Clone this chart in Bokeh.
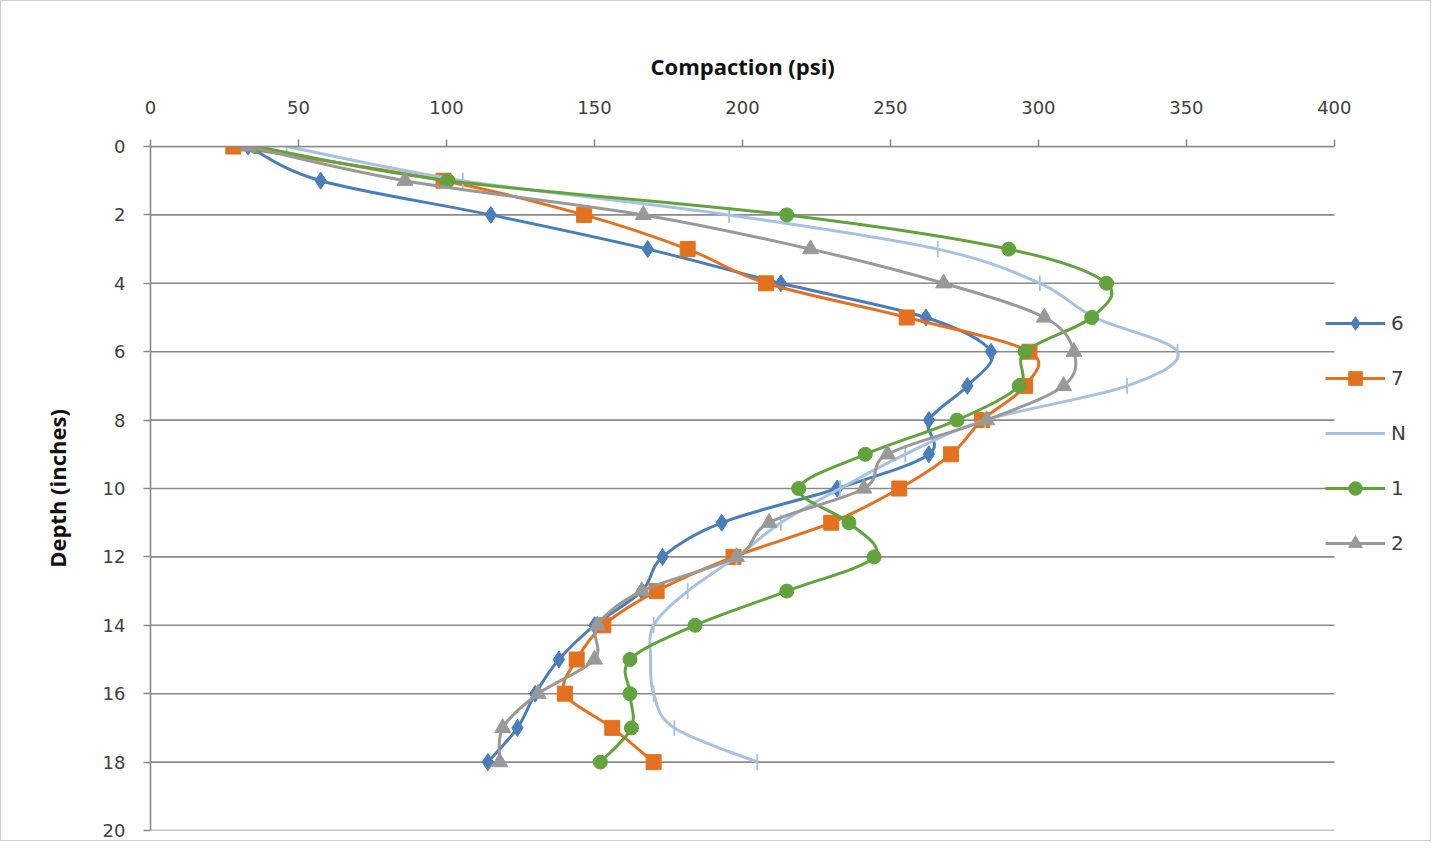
from bokeh.plotting import figure
from bokeh.models import Range1d, FixedTicker, Legend, LegendItem, ColumnDataSource, Title
from bokeh.embed import file_html
from bokeh.resources import INLINE
import numpy as np

# ---- data ----
depth = [0, 1, 2, 3, 4, 5, 6, 7, 8, 9, 10, 11, 12, 13, 14, 15, 16, 17, 18]
s6 = [33, 57.5, 115, 168, 213, 262, 284, 276, 263, 263, 232, 193, 173, 166, 150, 138, 130, 124, 114]
s7 = [28, 99, 146.5, 181.5, 208, 255.5, 297, 295.5, 281, 270.5, 253, 230, 197, 171, 153, 144, 140, 156, 170]
sN = [46, 105.5, 195.5, 266, 300.5, 319, 347, 330, 282, 255, 233, 213, 198, 181.5, 170, 169, 170, 177, 205]
s1 = [35.5, 100.5, 215, 290, 323, 318, 295.5, 293.5, 272.5, 241.5, 219, 236, 244.5, 215, 184, 162, 162, 162.5, 152]
s2 = [33, 86, 166.5, 223, 268, 302, 312, 308.5, 282.5, 249, 241, 209, 198, 166, 151, 150, 131, 119, 118]

series_names = ["6", "7", "N", "1", "2"]
series_vals = [s6, s7, sN, s1, s2]
colors = ["#4a7ebb", "#e4711f", "#a7c1e2", "#62a33e", "#999999"]
markers = ["diamond", "square", "plus", "circle", "triangle"]
msizes = [17, 15, 16, 14, 16]

x_ticks = [0, 50, 100, 150, 200, 250, 300, 350, 400]
y_ticks = [0, 2, 4, 6, 8, 10, 12, 14, 16, 18, 20]
x_max = 400
x_title = "Compaction (psi)"
y_title = "Depth (inches)"

FONT = "DejaVu Sans"
TFONT = "Open Sans"

FRAME_W = 1271       # frame reaches past the 400 mark so the legend fits inside it
DATA_W = 1182        # pixel width of the 0..400 data area

p = figure(width=1431, height=841, output_backend="svg", toolbar_location=None,
           x_range=Range1d(0, x_max * FRAME_W / DATA_W), y_range=Range1d(20, 0),
           x_axis_location="above",
           min_border_left=149, min_border_top=145, min_border_right=9, min_border_bottom=12)
p.styles = {"border": "1px solid #cfcfcf"}
p.outline_line_color = None
p.background_fill_color = "white"
p.border_fill_color = "white"

p.xgrid.grid_line_color = None
p.ygrid.grid_line_color = None

# horizontal gridlines limited to the 0..400 data area
p.segment(x0=[0] * len(y_ticks), x1=[x_max] * len(y_ticks), y0=y_ticks, y1=y_ticks,
          line_color="#8a8a8a", line_width=1.6)

for ax in (p.xaxis[0], p.yaxis[0]):
    ax.axis_line_color = "#8a8a8a"
    ax.axis_line_width = 1.6
    ax.major_tick_line_color = "#8a8a8a"
    ax.major_tick_line_width = 1.6
    ax.major_tick_out = 7
    ax.major_tick_in = 0
    ax.minor_tick_line_color = None
    ax.major_label_text_font = FONT
    ax.major_label_text_font_size = "18px"
    ax.major_label_text_color = "#404040"
    ax.axis_label_text_font = TFONT
    ax.axis_label_text_font_style = "bold"
    ax.axis_label_text_font_size = "22px"
    ax.axis_label_text_color = "#111111"

p.xaxis[0].ticker = FixedTicker(ticks=x_ticks)
p.xaxis[0].bounds = (0, x_max)
p.xaxis[0].major_label_standoff = 26
p.yaxis[0].ticker = FixedTicker(ticks=y_ticks)
p.yaxis[0].axis_label = y_title
p.yaxis[0].major_label_standoff = 18
p.yaxis[0].axis_label_standoff = 28

# x-axis title centred over the 0..400 data area
xt = Title(text=x_title, align="left", offset=500, standoff=34,
           text_font=TFONT, text_font_style="bold", text_font_size="22px", text_color="#111111")
p.add_layout(xt, "above")


def bezier_segments(xs, ys):
    xs = np.asarray(xs, float)
    ys = np.asarray(ys, float)
    n = len(xs)
    x0, y0, x1, y1, cx0, cy0, cx1, cy1 = ([] for _ in range(8))
    for i in range(n - 1):
        im1 = max(i - 1, 0)
        ip2 = min(i + 2, n - 1)
        x0.append(xs[i]); y0.append(ys[i])
        x1.append(xs[i + 1]); y1.append(ys[i + 1])
        cx0.append(xs[i] + (xs[i + 1] - xs[im1]) / 6.0)
        cy0.append(ys[i] + (ys[i + 1] - ys[im1]) / 6.0)
        cx1.append(xs[i + 1] - (xs[ip2] - xs[i]) / 6.0)
        cy1.append(ys[i + 1] - (ys[ip2] - ys[i]) / 6.0)
    return dict(x0=x0, y0=y0, x1=x1, y1=y1, cx0=cx0, cy0=cy0, cx1=cx1, cy1=cy1)


items = []
for name, vals, col, mk, ms in zip(series_names, series_vals, colors, markers, msizes):
    seg = ColumnDataSource(bezier_segments(vals, depth))
    p.bezier(x0="x0", y0="y0", x1="x1", y1="y1", cx0="cx0", cy0="cy0", cx1="cx1", cy1="cy1",
             source=seg, line_color=col, line_width=3)
    pts = ColumnDataSource(dict(x=vals, y=depth))
    if mk == "plus":
        p.scatter("x", "y", source=pts, marker="dash", angle=np.pi / 2, size=ms,
                  line_color=col, line_width=1.8)
    else:
        p.scatter("x", "y", source=pts, marker=mk, size=ms,
                  fill_color=col, line_color=col, line_width=1)
    lr = p.line([np.nan], [np.nan], line_color=col, line_width=3)
    if mk == "plus":
        lm = p.scatter([np.nan], [np.nan], marker="dash", angle=np.pi / 2, size=ms, line_color=col, line_width=1.8)
    else:
        lm = p.scatter([np.nan], [np.nan], marker=mk, size=ms, fill_color=col, line_color=col)
    items.append(LegendItem(label=name, renderers=[lr, lm]))

legend = Legend(items=items, location=(1175, 270))
legend.label_text_font = FONT
legend.label_text_font_size = "20px"
legend.label_text_color = "#404040"
legend.glyph_width = 60
legend.glyph_height = 34
legend.label_height = 24
legend.spacing = 21
legend.label_standoff = 6
legend.padding = 0
legend.margin = 0
legend.border_line_color = None
legend.background_fill_alpha = 0
p.add_layout(legend, "center")

open("out.html", "w").write(file_html(p, INLINE))
